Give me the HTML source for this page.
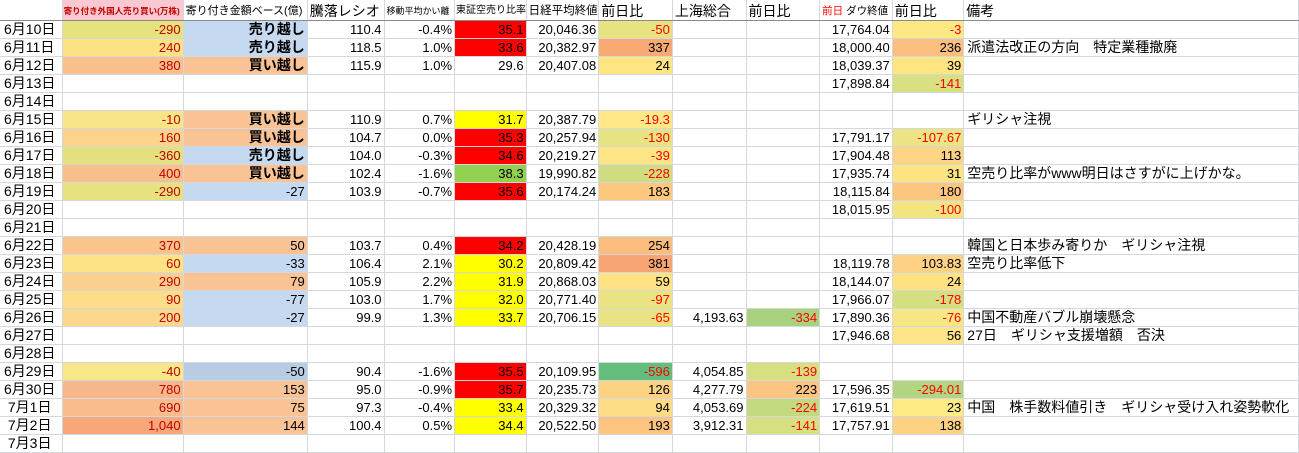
<!DOCTYPE html>
<html><head><meta charset="utf-8">
<style>
body{margin:0;background:#fff;width:1299px;height:451px;overflow:hidden;font-family:"Liberation Sans","Noto Sans CJK JP",sans-serif;}
table{border-collapse:collapse;table-layout:fixed;position:absolute;left:0;top:0;width:1299px}
td{height:17px;padding:0 2px;border-right:1px solid #d4d8de;border-bottom:1px solid #d4d8de;font-size:13px;text-align:right;white-space:nowrap;overflow:hidden;line-height:17px;color:#000;}
tr.h td{height:20px;border-bottom:1px solid #8a8a8a;text-align:left;font-size:14px;vertical-align:bottom;line-height:18px}
td.d{text-align:left;font-size:14px;padding-left:4px}
td.m{text-align:left;font-size:14px;padding-left:3px;overflow:visible}
td.b{color:#c00000}
.r{color:#f00}
.k{font-weight:bold;font-size:14px}
.bl{background:#c5d9f1}.bl2{background:#b8cce4}.or{background:#f9c396}.rd{background:#ff0000}.ye{background:#ffff00}.gr{background:#92d050}
</style></head><body>
<table>
<colgroup><col style="width:59px"><col style="width:115px"><col style="width:118px"><col style="width:73px"><col style="width:67px"><col style="width:68px"><col style="width:69px"><col style="width:70px"><col style="width:70px"><col style="width:70px"><col style="width:69px"><col style="width:68px"><col style="width:318px"></colgroup>
<tr class="h"><td></td><td style="background:#f9c8d0;color:#c00000;font-size:8.5px;font-weight:bold;padding:0 1px">寄り付き外国人売り買い(万株)</td><td style="font-size:11px">寄り付き金額ベース(億)</td><td>騰落レシオ</td><td style="font-size:9px">移動平均かい離</td><td style="font-size:10px;padding:0 1px">東証空売り比率</td><td style="font-size:11.5px">日経平均終値</td><td>前日比</td><td>上海総合</td><td>前日比</td><td style="font-size:10.5px"><span style="color:#f00">前日</span>&nbsp;ダウ終値</td><td>前日比</td><td>備考</td></tr>
<tr><td class="d">6月10日</td><td class="b" style="background:#e6e27e">-290</td><td class="bl k">売り越し</td><td>110.4</td><td>-0.4%</td><td class="rd">35.1</td><td>20,046.36</td><td class="r" style="background:#e8e381">-50</td><td></td><td></td><td>17,764.04</td><td class="r" style="background:#fde884">-3</td><td class="m"></td></tr>
<tr><td class="d">6月11日</td><td class="b" style="background:#fde283">240</td><td class="bl k">売り越し</td><td>118.5</td><td>1.0%</td><td class="rd">33.6</td><td>20,382.97</td><td style="background:#f9a974">337</td><td></td><td></td><td>18,000.40</td><td style="background:#fbbf80">236</td><td class="m">派遣法改正の方向　特定業種撤廃</td></tr>
<tr><td class="d">6月12日</td><td class="b" style="background:#f9c08b">380</td><td class="or k">買い越し</td><td>115.9</td><td>1.0%</td><td>29.6</td><td>20,407.08</td><td style="background:#fee582">24</td><td></td><td></td><td>18,039.37</td><td style="background:#fee582">39</td><td class="m"></td></tr>
<tr><td class="d">6月13日</td><td></td><td></td><td></td><td></td><td></td><td></td><td></td><td></td><td></td><td>17,898.84</td><td class="r" style="background:#d9e07f">-141</td><td class="m"></td></tr>
<tr><td class="d">6月14日</td><td></td><td></td><td></td><td></td><td></td><td></td><td></td><td></td><td></td><td></td><td></td><td class="m"></td></tr>
<tr><td class="d">6月15日</td><td class="b" style="background:#f8e587">-10</td><td class="or k">買い越し</td><td>110.9</td><td>0.7%</td><td class="ye">31.7</td><td>20,387.79</td><td class="r" style="background:#fee888">-19.3</td><td></td><td></td><td></td><td></td><td class="m">ギリシャ注視</td></tr>
<tr><td class="d">6月16日</td><td class="b" style="background:#fcd38a">160</td><td class="or k">買い越し</td><td>104.7</td><td>0.0%</td><td class="rd">35.3</td><td>20,257.94</td><td class="r" style="background:#e5e382">-130</td><td></td><td></td><td>17,791.17</td><td class="r" style="background:#ebe384">-107.67</td><td class="m"></td></tr>
<tr><td class="d">6月17日</td><td class="b" style="background:#e3e07e">-360</td><td class="bl k">売り越し</td><td>104.0</td><td>-0.3%</td><td class="rd">34.6</td><td>20,219.27</td><td class="r" style="background:#fde485">-39</td><td></td><td></td><td>17,904.48</td><td style="background:#fdd484">113</td><td class="m"></td></tr>
<tr><td class="d">6月18日</td><td class="b" style="background:#f9bf8b">400</td><td class="or k">買い越し</td><td>102.4</td><td>-1.6%</td><td class="gr">38.3</td><td>19,990.82</td><td class="r" style="background:#cfdd80">-228</td><td></td><td></td><td>17,935.74</td><td style="background:#fee382">31</td><td class="m">空売り比率がwww明日はさすがに上げかな。</td></tr>
<tr><td class="d">6月19日</td><td class="b" style="background:#e6e27e">-290</td><td class="bl">-27</td><td>103.9</td><td>-0.7%</td><td class="rd">35.6</td><td>20,174.24</td><td style="background:#fcc87e">183</td><td></td><td></td><td>18,115.84</td><td style="background:#fcc67f">180</td><td class="m"></td></tr>
<tr><td class="d">6月20日</td><td></td><td></td><td></td><td></td><td></td><td></td><td></td><td></td><td></td><td>18,015.95</td><td class="r" style="background:#f3e482">-100</td><td class="m"></td></tr>
<tr><td class="d">6月21日</td><td></td><td></td><td></td><td></td><td></td><td></td><td></td><td></td><td></td><td></td><td></td><td class="m"></td></tr>
<tr><td class="d">6月22日</td><td class="b" style="background:#f9c58b">370</td><td class="or">50</td><td>103.7</td><td>0.4%</td><td class="rd">34.2</td><td>20,428.19</td><td style="background:#fbbd7d">254</td><td></td><td></td><td></td><td></td><td class="m">韓国と日本歩み寄りか　ギリシャ注視</td></tr>
<tr><td class="d">6月23日</td><td class="b" style="background:#fde385">60</td><td class="bl">-33</td><td>106.4</td><td>2.1%</td><td class="ye">30.2</td><td>20,809.42</td><td style="background:#f8a473">381</td><td></td><td></td><td>18,119.78</td><td style="background:#fdd285">103.83</td><td class="m">空売り比率低下</td></tr>
<tr><td class="d">6月24日</td><td class="b" style="background:#fbcf8d">290</td><td class="or">79</td><td>105.9</td><td>2.2%</td><td class="ye">31.9</td><td>20,868.03</td><td style="background:#fee283">59</td><td></td><td></td><td>18,144.07</td><td style="background:#fee282">24</td><td class="m"></td></tr>
<tr><td class="d">6月25日</td><td class="b" style="background:#fddd87">90</td><td class="bl">-77</td><td>103.0</td><td>1.7%</td><td class="ye">32.0</td><td>20,771.40</td><td class="r" style="background:#eae382">-97</td><td></td><td></td><td>17,966.07</td><td class="r" style="background:#d4df7f">-178</td><td class="m"></td></tr>
<tr><td class="d">6月26日</td><td class="b" style="background:#fbd88c">200</td><td class="bl">-27</td><td>99.9</td><td>1.3%</td><td class="ye">33.7</td><td>20,706.15</td><td class="r" style="background:#e9e383">-65</td><td>4,193.63</td><td class="r" style="background:#a9d27f">-334</td><td>17,890.36</td><td class="r" style="background:#f6e784">-76</td><td class="m">中国不動産バブル崩壊懸念</td></tr>
<tr><td class="d">6月27日</td><td></td><td></td><td></td><td></td><td></td><td></td><td></td><td></td><td></td><td>17,946.68</td><td style="background:#fde486">56</td><td class="m">27日　ギリシャ支援増額　否決</td></tr>
<tr><td class="d">6月28日</td><td></td><td></td><td></td><td></td><td></td><td></td><td></td><td></td><td></td><td></td><td></td><td class="m"></td></tr>
<tr><td class="d">6月29日</td><td class="b" style="background:#f8e787">-40</td><td class="bl2">-50</td><td>90.4</td><td>-1.6%</td><td class="rd">35.5</td><td>20,109.95</td><td class="r" style="background:#63be7b">-596</td><td>4,054.85</td><td class="r" style="background:#d6e081">-139</td><td></td><td></td><td class="m"></td></tr>
<tr><td class="d">6月30日</td><td class="b" style="background:#f8b68b">780</td><td class="or">153</td><td>95.0</td><td>-0.9%</td><td class="rd">35.7</td><td>20,235.73</td><td style="background:#fdd283">126</td><td>4,277.79</td><td style="background:#fdc582">223</td><td>17,596.35</td><td class="r" style="background:#b1d580">-294.01</td><td class="m"></td></tr>
<tr><td class="d">&nbsp;7月1日</td><td class="b" style="background:#f9bc8b">690</td><td class="or">75</td><td>97.3</td><td>-0.4%</td><td class="ye">33.4</td><td>20,329.32</td><td style="background:#fedc85">94</td><td>4,053.69</td><td class="r" style="background:#c2d980">-224</td><td>17,619.51</td><td style="background:#feeb86">23</td><td class="m">中国　株手数料値引き　ギリシャ受け入れ姿勢軟化</td></tr>
<tr><td class="d">&nbsp;7月2日</td><td class="b" style="background:#f8a778">1,040</td><td class="or">144</td><td>100.4</td><td>0.5%</td><td class="ye">34.4</td><td>20,522.50</td><td style="background:#fcc47f">193</td><td>3,912.31</td><td class="r" style="background:#d6e081">-141</td><td>17,757.91</td><td style="background:#fdd283">138</td><td class="m"></td></tr>
<tr><td class="d">&nbsp;7月3日</td><td></td><td></td><td></td><td></td><td></td><td></td><td></td><td></td><td></td><td></td><td></td><td class="m"></td></tr>
</table>
</body></html>
